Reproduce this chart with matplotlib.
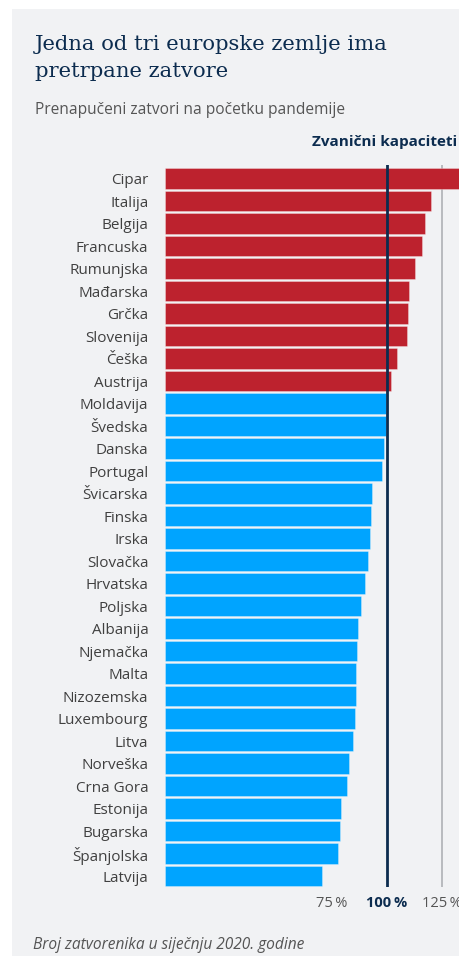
import matplotlib
matplotlib.use("Agg")
import matplotlib.pyplot as plt
from matplotlib.patches import Rectangle

countries = ["Cipar", "Italija", "Belgija", "Francuska", "Rumunjska", "Mađarska", "Grčka",
             "Slovenija", "Češka", "Austrija", "Moldavija", "Švedska", "Danska", "Portugal",
             "Švicarska", "Finska", "Irska", "Slovačka", "Hrvatska", "Poljska", "Albanija",
             "Njemačka", "Malta", "Nizozemska", "Luxembourg", "Litva", "Norveška", "Crna Gora",
             "Estonija", "Bugarska", "Španjolska", "Latvija"]
values = [140.0, 120.0, 117.4, 115.8, 112.9, 110.2, 109.8, 109.3, 104.8, 102.1,
          99.6, 99.5, 98.9, 97.9, 93.5, 92.9, 92.5, 91.4, 90.3, 88.4, 87.1,
          86.7, 86.0, 86.0, 85.6, 84.8, 83.1, 82.1, 79.4, 78.9, 78.0, 70.8]
tick_vals = [75, 100, 125]
tick_labels = ["75\u2009%", "100\u2009%", "125\u2009%"]

W, H = 459, 956
RED = "#bd222e"
BLUE = "#00a4ff"
NAVY = "#0c2c4f"
PANEL = "#f1f2f4"
GRAY = "#555555"

fig = plt.figure(figsize=(W / 100, H / 100), dpi=100)
fig.patch.set_facecolor("white")
fig.patches.append(Rectangle((12 / W, 0), 1 - 12 / W, 1 - 9 / H, transform=fig.transFigure,
                             facecolor=PANEL, edgecolor="none", zorder=-10))

def fx(px):
    return px / W

def fy(py):
    return 1 - py / H

ax_left, ax_right = 165, 459
ax_top, ax_bot = 165, 886.7
ax = fig.add_axes([fx(ax_left), fy(ax_bot), (ax_right - ax_left) / W, (ax_bot - ax_top) / H])
ax.set_facecolor("none")
ax.set_zorder(5)

ypos = list(range(len(countries)))
colors = [RED if v > 100 else BLUE for v in values]
ax.barh(ypos, values, height=0.91, color=colors, edgecolor=(1, 1, 1, 0.35), linewidth=0.6, zorder=2)
ax.axvline(125, color="#a9abb0", linewidth=1.1, zorder=1)
ax.axvline(100, color=NAVY, linewidth=2.0, zorder=3)

ax.set_xlim(0, 100 * (ax_right - ax_left) / (386.7 - 165))
ax.set_ylim(31.47, -0.61)

ax.set_yticks(ypos)
ax.set_yticklabels(countries, fontsize=11, color="#404040", family=["Open Sans", "DejaVu Sans"])
ax.tick_params(axis="y", length=0, pad=12)
ax.set_xticks(tick_vals)
ax.set_xticklabels(tick_labels, fontsize=10.5, color=GRAY, family=["Open Sans", "DejaVu Sans"])
ax.tick_params(axis="x", length=0, pad=7)
lbls = ax.get_xticklabels()
lbls[1].set_color(NAVY)
lbls[1].set_fontweight("bold")
for s in ax.spines.values():
    s.set_visible(False)

fig.text(fx(35), fy(50), "Jedna od tri europske zemlje ima", fontsize=15.2, color=NAVY,
         family="DejaVu Serif", va="baseline", ha="left")
fig.text(fx(35), fy(77), "pretrpane zatvore", fontsize=15.2, color=NAVY,
         family="DejaVu Serif", va="baseline", ha="left")
fig.text(fx(35), fy(114.5), "Prenapučeni zatvori na početku pandemije", fontsize=11.2, color=GRAY,
         family="Open Sans", va="baseline", ha="left")
fig.text(fx(312), fy(142), "Zvanični kapaciteti", fontsize=11, color=NAVY, fontweight="bold",
         family="Open Sans", va="center", ha="left")
fig.text(fx(33), fy(945), "Broj zatvorenika u siječnju 2020. godine", fontsize=11.2, color=GRAY,
         family="Open Sans", style="italic", va="center", ha="left")

fig.savefig("out.png", dpi=100, facecolor=fig.get_facecolor())
